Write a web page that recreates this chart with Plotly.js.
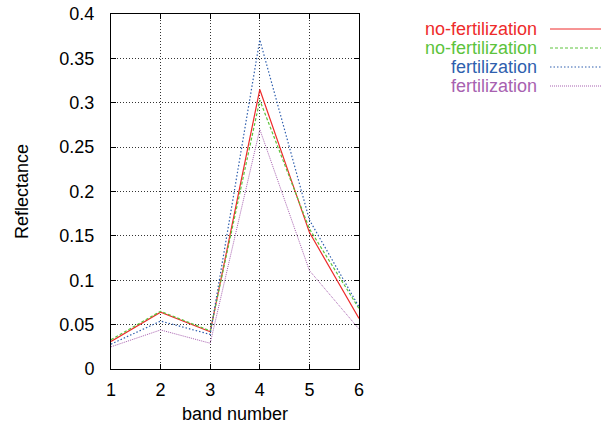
<!DOCTYPE html>
<html><head><meta charset="utf-8">
<script src="https://cdn.plot.ly/plotly-3.0.1.min.js"></script>
<style>body{margin:0;padding:0;background:#fff}#plot{width:603px;height:430px}</style>
</head><body><div id="plot"></div>
<script>
const bands = [1, 2, 3, 4, 5, 6];
const noFert1 = [0.031, 0.064, 0.042, 0.315, 0.154, 0.057];
const noFert2 = [0.033, 0.065, 0.043, 0.303, 0.158, 0.068];
const fert1 = [0.028, 0.054, 0.039, 0.371, 0.168, 0.070];
const fert2 = [0.025, 0.044, 0.029, 0.270, 0.111, 0.045];
const names = ['no-fertilization', 'no-fertilization', 'fertilization', 'fertilization'];
const colors = ['#ee2b2b', '#5cc33c', '#2f5fae', '#a861b0'];
const dashes = ['solid', '3px,2px', '1.5px,2px', '1px,1px'];
const series = [noFert1, noFert2, fert1, fert2];
const FONT = 'Liberation Sans, Arial, Helvetica, sans-serif';

const traces = series.map((s, i) => ({
  x: bands, y: s, type: 'scatter', mode: 'lines', name: names[i],
  line: {color: colors[i], width: i === 3 ? 1 : 1.2, dash: dashes[i]},
  showlegend: false
}));

const legY = [29, 48, 67, 86];
const annotations = names.map((n, i) => ({
  xref: 'paper', yref: 'paper',
  x: (539 - 111) / 248, y: 1 - (legY[i] - 14) / 355,
  text: n, showarrow: false, xanchor: 'right', yanchor: 'middle',
  font: {family: FONT, size: 18, color: colors[i]}
}));
const shapes = names.map((n, i) => ({
  type: 'line', xref: 'paper', yref: 'paper',
  x0: (550 - 111) / 248, x1: (601 - 111) / 248,
  y0: 1 - (legY[i] - 14) / 355, y1: 1 - (legY[i] - 14) / 355,
  line: {color: colors[i], width: 1, dash: dashes[i]}
}));

const axisCommon = {
  showline: true, linecolor: '#000', linewidth: 1, mirror: 'ticks',
  ticks: 'inside', ticklen: 5, tickcolor: '#000',
  showgrid: true, gridcolor: '#333', griddash: '1px,2px', gridwidth: 1,
  zeroline: false,
  tickfont: {family: FONT, size: 18, color: '#000'}
};

const layout = {
  width: 603, height: 430,
  margin: {l: 111, r: 244, t: 14, b: 61},
  paper_bgcolor: '#fff', plot_bgcolor: '#fff',
  xaxis: Object.assign({}, axisCommon, {
    range: [1, 6], tickvals: bands, ticktext: bands.map(String),
    ticklabelstandoff: 4,
    title: {text: 'band number', standoff: 8,
      font: {family: FONT, size: 18, color: '#000'}}
  }),
  yaxis: Object.assign({}, axisCommon, {
    range: [0, 0.4], tickvals: [0, 0.05, 0.1, 0.15, 0.2, 0.25, 0.3, 0.35, 0.4],
    ticktext: ['0', '0.05', '0.1', '0.15', '0.2', '0.25', '0.3', '0.35', '0.4'],
    ticklabelstandoff: 12,
    title: {text: 'Reflectance', standoff: 26,
      font: {family: FONT, size: 18, color: '#000'}}
  }),
  annotations: annotations,
  shapes: shapes,
  showlegend: false
};

Plotly.newPlot('plot', traces, layout, {staticPlot: true});
</script></body></html>
